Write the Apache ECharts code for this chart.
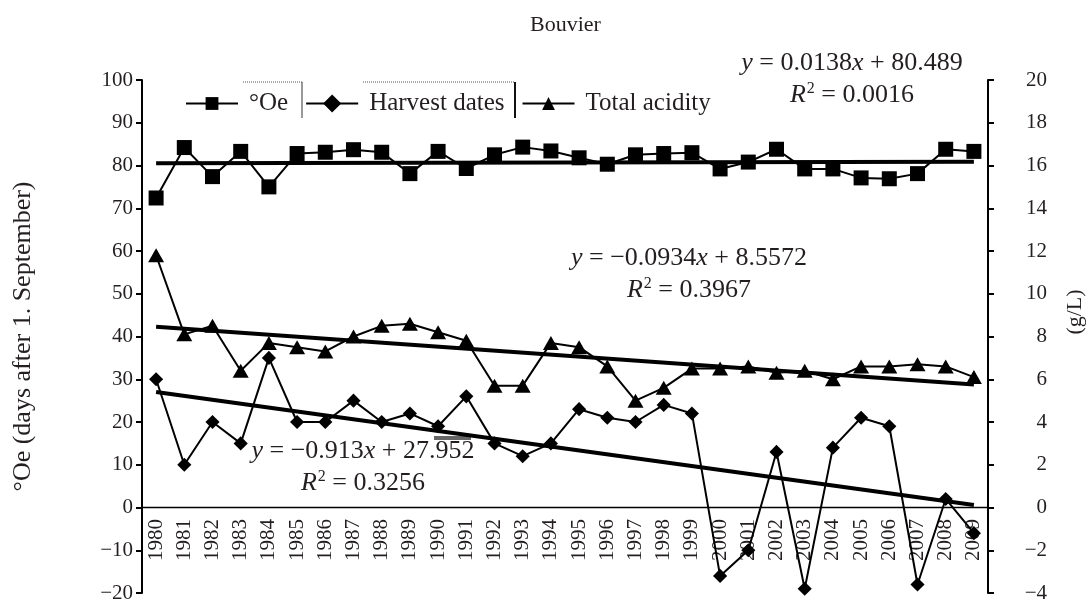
<!DOCTYPE html>
<html>
<head>
<meta charset="utf-8">
<title>Bouvier</title>
<script src="https://cdn.jsdelivr.net/npm/echarts@6/dist/echarts.min.js"></script>
<style>
html, body { margin: 0; padding: 0; background: #fff; }
#main { width: 1091px; height: 601px; }
</style>
</head>
<body>
<div id="main"></div>
<script>
// data
var years = ['1980','1981','1982','1983','1984','1985','1986','1987','1988','1989',
	'1990','1991','1992','1993','1994','1995','1996','1997','1998','1999',
	'2000','2001','2002','2003','2004','2005','2006','2007','2008','2009'];
// °Oe, left axis
var oeValues = [72.4, 84.2, 77.4, 83.3, 75.0, 82.8, 83.1, 83.7, 83.1, 78.1,
	83.3, 79.3, 82.5, 84.3, 83.4, 81.8, 80.3, 82.5, 82.8, 83.0,
	79.2, 80.8, 83.8, 79.2, 79.2, 77.1, 76.9, 78.1, 83.8, 83.3];
// harvest dates (days after 1. September), left axis
var harvestValues = [30, 10, 20, 15, 35, 20, 20, 25, 20, 22,
	19, 26, 15, 12, 15, 23, 21, 20, 24, 22,
	-16, -10, 13, -19, 14, 21, 19, -18, 2, -6];
// total acidity (g/L), right axis
var acidityValues = [11.8, 8.1, 8.5, 6.4, 7.7, 7.5, 7.3, 8.0, 8.5, 8.6,
	8.2, 7.8, 5.7, 5.7, 7.7, 7.5, 6.6, 5.0, 5.6, 6.5,
	6.5, 6.6, 6.3, 6.4, 6.0, 6.6, 6.6, 6.7, 6.6, 6.1];
// trend line ends (first year, last year)
var oeTrend = [80.5, 80.9];
var harvestTrend = [27.0, 0.6];
var acidityTrend = [8.46, 5.76];
var leftTicks = { min: -20, max: 100, step: 10 };
var rightTicks = { min: -4, max: 20, step: 2 };
var seriesNames = ['°Oe', 'Harvest dates', 'Total acidity'];

var serif = '"Liberation Serif", "DejaVu Serif", serif';
var ink = '#231f20';

function minus(v) {
	return String(v).replace('-', '\u2212');
}
function trendData(ends) {
	return [[years[0], ends[0]], [years[years.length - 1], ends[1]]];
}
function eqText(x, y, line1, line2) {
	var rich = {
		n: { fontFamily: serif, fontSize: 26, fill: ink, lineHeight: 32 },
		i: { fontFamily: serif, fontSize: 26, fontStyle: 'italic', fill: ink, lineHeight: 32 },
		s: { fontFamily: serif, fontSize: 16, fill: ink, lineHeight: 32, verticalAlign: 'top', padding: [2, 0, 0, 1] }
	};
	return [
		{ type: 'text', x: x, y: y, style: { text: line1, rich: rich, align: 'center', verticalAlign: 'middle' } },
		{ type: 'text', x: x, y: y + 32, style: { text: line2, rich: rich, align: 'center', verticalAlign: 'middle' } }
	];
}

var mainChart = echarts.init(document.getElementById('main'));

var graphics = []
	.concat(eqText(852, 63, '{i|y}{n| = 0.0138}{i|x}{n| + 80.489}', '{i|R}{s|2}{n| = 0.0016}'))
	.concat(eqText(689, 258, '{i|y}{n| = \u22120.0934}{i|x}{n| + 8.5572}', '{i|R}{s|2}{n| = 0.3967}'))
	.concat(eqText(363, 451, '{i|y}{n| = \u22120.913}{i|x}{n| + 27.952}', '{i|R}{s|2}{n| = 0.3256}'));

// right axis title
graphics.push({
	type: 'text', x: 1075, y: 312, rotation: Math.PI / 2,
	style: { text: '(g/L)', font: '22px ' + serif, fill: ink, align: 'center', verticalAlign: 'middle' }
});

// scan marks around the legend in the original
graphics.push(
	{ type: 'line', shape: { x1: 243, y1: 82, x2: 302, y2: 82 }, style: { stroke: '#555', lineWidth: 1, lineDash: [1, 1] } },
	{ type: 'line', shape: { x1: 302, y1: 82, x2: 302, y2: 118 }, style: { stroke: '#333', lineWidth: 1 } },
	{ type: 'line', shape: { x1: 363, y1: 82, x2: 515, y2: 82 }, style: { stroke: '#555', lineWidth: 1, lineDash: [1, 1] } },
	{ type: 'line', shape: { x1: 515, y1: 82, x2: 515, y2: 118 }, style: { stroke: '#111', lineWidth: 2 } },
	{ type: 'rect', shape: { x: 434, y: 436, width: 37, height: 4 }, style: { fill: '#666' } }
);

var chartOpt = {
	backgroundColor: '#fff',
	animation: false,
	title: {
		text: 'Bouvier',
		left: 525,
		top: 9,
		textStyle: { fontFamily: serif, fontSize: 22, fontWeight: 'normal', color: ink }
	},
	legend: {
		data: seriesNames,
		left: 180,
		top: 86,
		itemWidth: 52,
		itemHeight: 16,
		itemGap: 17,
		textStyle: { fontFamily: serif, fontSize: 25, color: ink, padding: [0, 0, 0, 6] }
	},
	grid: { left: 142, right: 103, top: 80, bottom: 8, containLabel: false, outerBoundsMode: 'none' },
	xAxis: {
		type: 'category',
		data: years,
		boundaryGap: true,
		position: 'bottom',
		// moved up from the grid bottom (-20) to the zero line
		offset: -86,
		axisLine: { onZero: false, lineStyle: { color: '#000', width: 1.3 } },
		axisTick: { show: false },
		axisLabel: { rotate: 90, margin: 12, interval: 0, fontFamily: serif, fontSize: 21, color: ink }
	},
	yAxis: [
		{
			type: 'value',
			min: leftTicks.min,
			max: leftTicks.max,
			interval: leftTicks.step,
			name: '°Oe (days after 1. September)',
			nameLocation: 'middle',
			nameGap: 106,
			nameTextStyle: { fontFamily: serif, fontSize: 26, color: ink },
			axisLine: { show: true, lineStyle: { color: '#000', width: 2 } },
			axisTick: { show: true, inside: false, length: 6, lineStyle: { color: '#000', width: 2 } },
			axisLabel: { margin: 9, fontFamily: serif, fontSize: 21, color: ink, formatter: minus },
			splitLine: { show: false }
		},
		{
			type: 'value',
			position: 'right',
			min: rightTicks.min,
			max: rightTicks.max,
			interval: rightTicks.step,
			axisLine: { show: true, lineStyle: { color: '#000', width: 2 } },
			axisTick: { show: true, inside: false, length: 6, lineStyle: { color: '#000', width: 2 } },
			axisLabel: { margin: 59, align: 'right', fontFamily: serif, fontSize: 21, color: ink, formatter: minus },
			splitLine: { show: false }
		}
	],
	series: [
		{ name: 'oeTrend', type: 'line', yAxisIndex: 0, data: trendData(oeTrend), showSymbol: false, lineStyle: { color: '#000', width: 4 }, z: 2 },
		{ name: 'harvestTrend', type: 'line', yAxisIndex: 0, data: trendData(harvestTrend), showSymbol: false, lineStyle: { color: '#000', width: 4 }, z: 2 },
		{ name: 'acidityTrend', type: 'line', yAxisIndex: 1, data: trendData(acidityTrend), showSymbol: false, lineStyle: { color: '#000', width: 4 }, z: 2 },
		{
			name: seriesNames[0], type: 'line', yAxisIndex: 0, data: oeValues,
			symbol: 'rect', symbolSize: 15,
			itemStyle: { color: '#000' }, lineStyle: { color: '#000', width: 2 }, z: 3
		},
		{
			name: seriesNames[1], type: 'line', yAxisIndex: 0, data: harvestValues,
			symbol: 'rect', symbolSize: 10, symbolRotate: 45,
			itemStyle: { color: '#000' }, lineStyle: { color: '#000', width: 2 }, z: 3
		},
		{
			name: seriesNames[2], type: 'line', yAxisIndex: 1, data: acidityValues,
			symbol: 'triangle', symbolSize: [16, 14],
			itemStyle: { color: '#000' }, lineStyle: { color: '#000', width: 2 }, z: 3
		}
	],
	graphic: graphics
};

mainChart.setOption(chartOpt);
</script>
</body>
</html>
